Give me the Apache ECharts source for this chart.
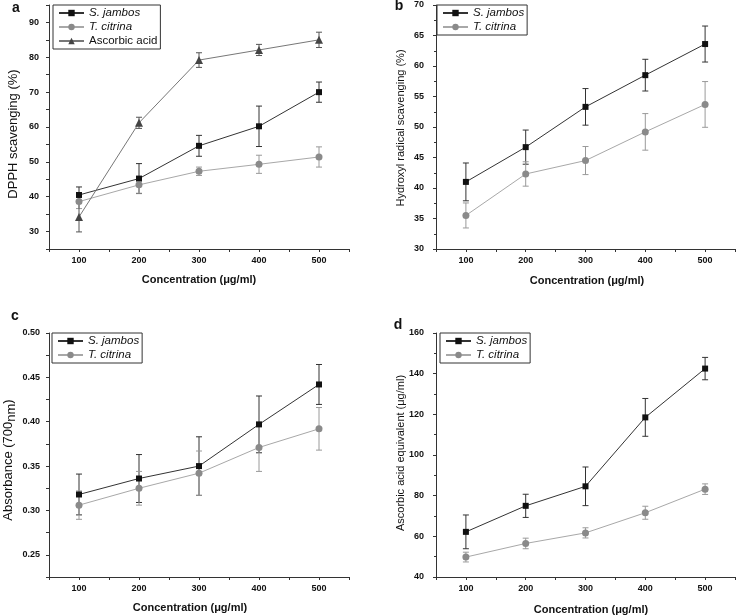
<!DOCTYPE html>
<html>
<head>
<meta charset="utf-8">
<script src="https://cdn.jsdelivr.net/npm/echarts@6/dist/echarts.min.js"></script>
<style>html,body{margin:0;padding:0;background:#fff}#c{width:738px;height:615px}</style>
</head>
<body>
<div id="c"></div>
<script>
const xs = [100, 200, 300, 400, 500];
const xTicks = [100, 200, 300, 400, 500];
// Panel a: DPPH scavenging (%)
const dpphJambos = [40.5, 45.2, 54.6, 60.2, 70.0];
const dpphJambosErr = [2.3, 4.3, 3.0, 5.8, 2.9];
const dpphCitrina = [38.6, 43.4, 47.3, 49.3, 51.4];
const dpphCitrinaErr = [2.0, 2.4, 1.2, 2.6, 2.9];
const dpphAscorbic = [34.2, 61.2, 79.2, 82.1, 85.0];
const dpphAscorbicErr = [4.3, 1.6, 2.1, 1.6, 2.2];
// Panel b: Hydroxyl radical scavenging (%)
const ohJambos = [41.0, 46.7, 53.3, 58.5, 63.6];
const ohJambosErr = [3.1, 2.8, 3.0, 2.6, 2.95];
const ohCitrina = [35.5, 42.3, 44.5, 49.2, 53.7];
const ohCitrinaErr = [2.05, 2.0, 2.3, 3.0, 3.75];
// Panel c: Absorbance (700nm)
const absJambos = [0.318, 0.336, 0.350, 0.397, 0.442];
const absJambosErr = [0.023, 0.027, 0.033, 0.032, 0.0225];
const absCitrina = [0.306, 0.325, 0.342, 0.371, 0.392];
const absCitrinaErr = [0.016, 0.019, 0.025, 0.027, 0.024];
// Panel d: Ascorbic acid equivalent (μg/ml)
const aaeJambos = [62.2, 75.0, 84.6, 118.5, 142.5];
const aaeJambosErr = [8.3, 5.7, 9.5, 9.3, 5.5];
const aaeCitrina = [49.8, 56.5, 61.7, 71.6, 83.2];
const aaeCitrinaErr = [2.4, 2.6, 2.5, 3.2, 2.6];

const FONT = '"Liberation Sans", Arial, sans-serif';
const NAME_J = 'S. jambos', NAME_T = 'T. citrina', NAME_A = 'Ascorbic acid';

const styles = {};
styles[NAME_J] = {line: '#333333', marker: '#111111', err: '#333333', symbol: 'rect', size: 6};
styles[NAME_T] = {line: '#a8a8a8', marker: '#8a8a8a', err: '#9a9a9a', symbol: 'circle', size: 7};
styles[NAME_A] = {line: '#777777', marker: '#444444', err: '#555555', symbol: 'triangle', size: 8};

const grids = [
  {left: 49, top: 5, width: 300, height: 244},
  {left: 436, top: 5, width: 301, height: 244},
  {left: 49, top: 333, width: 300, height: 244},
  {left: 436, top: 333, width: 301, height: 244}
];

const axisCommon = {
  axisLine: {show: true, lineStyle: {color: '#333', width: 1}},
  axisTick: {show: true, length: 3, lineStyle: {color: '#333'}},
  splitLine: {show: false},
  axisLabel: {fontFamily: FONT, fontSize: 9, fontWeight: 'bold', color: '#111'}
};

function xAxisFor(i) {
  return Object.assign({}, axisCommon, {
    type: 'value', gridIndex: i, min: 50, max: 550, interval: 50,
    axisLabel: Object.assign({}, axisCommon.axisLabel, {
      margin: 7,
      formatter: v => xTicks.indexOf(v) >= 0 ? String(v) : ''
    })
  });
}

const yAxes = [
  Object.assign({}, axisCommon, {type: 'value', gridIndex: 0, min: 25, max: 95, interval: 5,
    axisLabel: Object.assign({}, axisCommon.axisLabel, {margin: 10, formatter: v => (v % 10 === 0 ? String(v) : '')})}),
  Object.assign({}, axisCommon, {type: 'value', gridIndex: 1, min: 30, max: 70, interval: 5,
    minorTick: {show: true, splitNumber: 2, length: 2, lineStyle: {color: '#333'}},
    axisLabel: Object.assign({}, axisCommon.axisLabel, {margin: 12})}),
  Object.assign({}, axisCommon, {type: 'value', gridIndex: 2, min: 0.225, max: 0.5, interval: 0.025,
    axisLabel: Object.assign({}, axisCommon.axisLabel, {margin: 9, formatter: v => {
      const r = Math.round(v * 1000); return r % 50 === 0 ? (r / 1000).toFixed(2) : '';
    }})}),
  Object.assign({}, axisCommon, {type: 'value', gridIndex: 3, min: 40, max: 160, interval: 20,
    minorTick: {show: true, splitNumber: 2, length: 2, lineStyle: {color: '#333'}},
    axisLabel: Object.assign({}, axisCommon.axisLabel, {margin: 12})})
];

const series = [];
function addSet(gi, name, vals, errs) {
  const st = styles[name];
  series.push({
    type: 'custom', name: name + ' err ' + gi, xAxisIndex: gi, yAxisIndex: gi, z: 2,
    data: xs.map((x, k) => [x, vals[k] - errs[k], vals[k] + errs[k]]),
    encode: {x: 0, y: [1, 2]},
    renderItem: function (params, api) {
      const x = api.value(0);
      const pLo = api.coord([x, api.value(1)]);
      const pHi = api.coord([x, api.value(2)]);
      const w = 3;
      const s = {stroke: st.err, lineWidth: 1};
      return {type: 'group', children: [
        {type: 'line', shape: {x1: pLo[0], y1: pLo[1], x2: pHi[0], y2: pHi[1]}, style: s},
        {type: 'line', shape: {x1: pLo[0] - w, y1: pLo[1], x2: pLo[0] + w, y2: pLo[1]}, style: s},
        {type: 'line', shape: {x1: pHi[0] - w, y1: pHi[1], x2: pHi[0] + w, y2: pHi[1]}, style: s}
      ]};
    },
    silent: true
  });
  series.push({
    type: 'line', name: name, xAxisIndex: gi, yAxisIndex: gi, z: 3,
    data: xs.map((x, k) => [x, vals[k]]),
    symbol: st.symbol, symbolSize: st.size, showSymbol: true,
    lineStyle: {color: st.line, width: 1},
    itemStyle: {color: st.marker, borderWidth: 0},
    animation: false
  });
}
addSet(0, NAME_J, dpphJambos, dpphJambosErr);
addSet(0, NAME_T, dpphCitrina, dpphCitrinaErr);
addSet(0, NAME_A, dpphAscorbic, dpphAscorbicErr);
addSet(1, NAME_J, ohJambos, ohJambosErr);
addSet(1, NAME_T, ohCitrina, ohCitrinaErr);
addSet(2, NAME_J, absJambos, absJambosErr);
addSet(2, NAME_T, absCitrina, absCitrinaErr);
addSet(3, NAME_J, aaeJambos, aaeJambosErr);
addSet(3, NAME_T, aaeCitrina, aaeCitrinaErr);

function legendFor(left, top, names) {
  return {
    left: left, top: top, orient: 'vertical', data: names,
    borderColor: '#333', borderWidth: 1, padding: [2, 3, 2, 5],
    itemWidth: 25, itemHeight: 8, itemGap: 2, selectedMode: false,
    textStyle: {fontFamily: FONT, fontSize: 11.5, color: '#111', lineHeight: 12,
      rich: {i: {fontFamily: FONT, fontSize: 11.5, fontStyle: 'italic', color: '#111', lineHeight: 12},
             n: {fontFamily: FONT, fontSize: 11.5, color: '#111', lineHeight: 12}}},
    formatter: n => (n === NAME_A ? '{n|' + n + '}' : '{i|' + n + '}')
  };
}

function txt(x, y, text, size, weight, rot, extra) {
  return {type: 'text', x: x, y: y, rotation: rot || 0, silent: true,
    style: Object.assign({text: text, fontFamily: FONT, fontSize: size, fontWeight: weight || 'normal',
      fill: '#111', align: 'center', verticalAlign: 'middle'}, extra || {})};
}
const R = Math.PI / 2;
const graphics = [
  txt(16, 8, 'a', 14, 'bold'),
  txt(399, 6, 'b', 14, 'bold'),
  txt(15, 316, 'c', 14, 'bold'),
  txt(398, 325, 'd', 14, 'bold'),
  txt(199, 280, 'Concentration (μg/ml)', 11, 'bold'),
  txt(587, 281, 'Concentration (μg/ml)', 11, 'bold'),
  txt(190, 608, 'Concentration (μg/ml)', 11, 'bold'),
  txt(591, 610, 'Concentration (μg/ml)', 11, 'bold'),
  txt(13, 134, 'DPPH scavenging (%)', 13, 'normal', R),
  txt(401, 128, 'Hydroxyl radical scavenging (%)', 11, 'normal', R),
  txt(8, 460, '{m|Absorbance (700}{s|nm}{m|)}', 13, 'normal', R,
    {rich: {m: {fontFamily: FONT, fontSize: 13, fill: '#111'}, s: {fontFamily: FONT, fontSize: 13, fill: '#111', padding: [6, 0, 0, 0]}}}),
  txt(401, 453, 'Ascorbic acid equivalent (μg/ml)', 11, 'normal', R)
];

const chart = echarts.init(document.getElementById('c'), null, {renderer: 'canvas'});
chart.setOption({
  animation: false,
  backgroundColor: '#fff',
  grid: grids,
  xAxis: [0, 1, 2, 3].map(xAxisFor),
  yAxis: yAxes,
  legend: [
    legendFor(53, 5, [NAME_J, NAME_T, NAME_A]),
    legendFor(437, 5, [NAME_J, NAME_T]),
    legendFor(52, 333, [NAME_J, NAME_T]),
    legendFor(440, 333, [NAME_J, NAME_T])
  ],
  graphic: graphics,
  series: series
});
</script>
</body>
</html>
